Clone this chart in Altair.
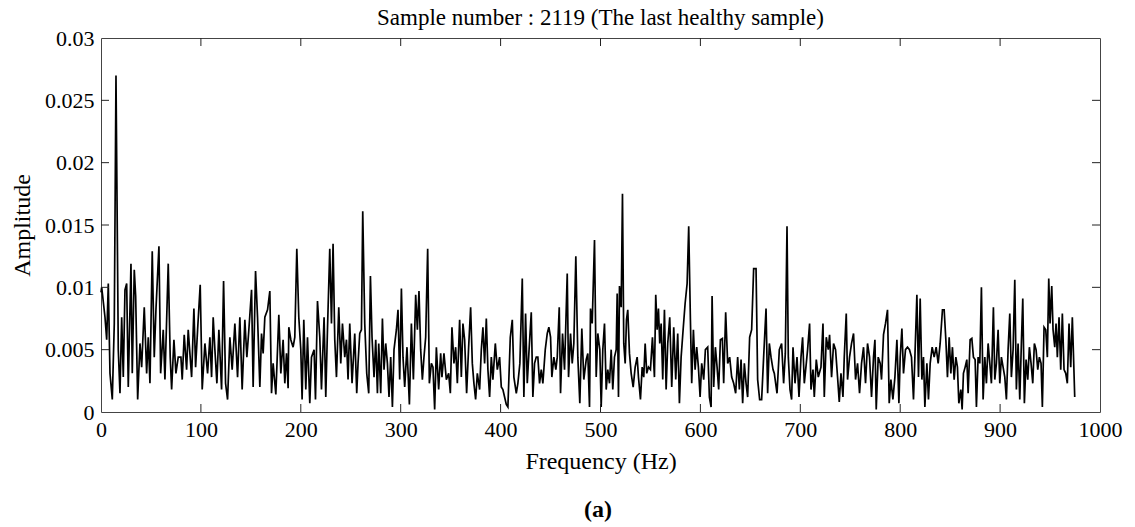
import altair as alt
import pandas as pd

# Frequency (Hz) and amplitude (in units of 0.001)
freq = [
    0, 0.7, 4, 5.7, 7.3, 9, 11.3, 13.3, 15, 17.3, 19, 20.7, 22.3, 24, 25.7, 27.3, 30, 31.3, 33.3, 34.7,
    36.7, 39, 40.7, 43.3, 45.7, 47.3, 49, 51.3, 53.3, 55, 58, 59.7, 62.3, 64, 67.3, 69.3, 70.7, 73, 75,
    77.3, 80, 81.3, 83.3, 85.7, 87.3, 90.7, 93, 94.7, 96.7, 99.3, 101.3, 104, 106.7, 109, 110.7, 112.3,
    114, 116, 118, 120.7, 122.7, 124.7, 126.7, 129, 131.3, 134, 136.7, 139, 141.3, 144, 146, 148, 150.7,
    152.3, 154.7, 156.7, 159, 160.7, 162.3,
    164, 166.7, 169, 170.7, 172.3, 175, 178, 180, 182.3, 184, 185.7, 187.3, 188, 190, 192.3, 194, 196,
    198, 200, 201.3, 203, 205, 206.7, 209, 210.7, 213.3, 214.7, 216.7, 219, 220.7, 223.3, 225, 226.7,
    229, 230.7, 232.3, 234, 235.7, 238, 240, 241.7, 244, 245.7, 247.3, 249, 251.3, 254, 256, 257.3, 259,
    260.7, 262, 264, 266, 268, 269.7, 271.3, 273.3, 275, 276.7, 278, 280, 281.7, 283.3, 285, 286.7,
    288.3, 290, 291.7, 293.3, 295.7, 297.3, 299, 300.7, 302.3, 304, 306.3, 308.7, 310.7, 312.7, 315,
    316.7, 318.3, 320, 321.7, 323.3, 325, 327, 328.7, 330.7, 332.3,
    334, 335.7, 338, 340, 341.3, 343.3, 345.7, 348, 349.7, 351.3, 353.3, 355, 356.7, 359, 360.7, 362.3,
    364, 366, 368, 370, 371.7, 373.3, 375, 376.7, 379, 380.7, 382.3, 384, 385.7, 387.3, 389, 390.7,
    392.3, 394.7, 396.7, 399, 400.7, 402.3, 404, 405.7, 407.3, 409.7, 411.7, 413.3, 415.7, 417.3, 419.3,
    421.7, 423.3, 425, 426.7, 428.3, 430.7, 432.3, 434, 435.7, 437.3, 439, 440.7, 442.3, 444.7, 446.7,
    448.3, 450, 451.3, 453.3, 455.3, 456.7, 458.7, 460, 462, 464, 466.7, 468, 470, 471.7, 473.3, 475.3,
    477.3, 479.3, 481.3, 483.3, 485.7, 487.3, 489, 490, 491.7, 494, 495.7, 497.3, 499.3, 500.7, 502.3,
    504, 505.7, 507.3, 509, 510.7, 512.3, 514, 515.7, 516.7, 518, 519, 520.7, 522, 523.3, 524.7, 526,
    527.3, 529, 530.7, 532.7, 534.7, 536.7, 538, 540, 541.7, 543.3, 544.7, 546.3, 548, 550, 552, 554,
    555.3, 556.7, 558, 559.3, 560.7, 562.3, 564, 565.7, 567.3, 569.3, 571.3, 573.3, 575.3, 577.3, 579,
    580.7, 582.7, 584.7, 586.7, 588.3, 590, 591.3, 593, 594.7, 596.3, 598, 599.7, 601.3, 603.3, 605,
    607.3, 609, 610.7, 611.7, 613.3, 615, 616.7, 618.3, 620, 622, 623.3, 625.3, 627.3, 629.3, 631.3,
    633.3, 635.3, 637.3, 639, 640.7, 642.3, 644, 645.7, 647.3, 649.3, 651.3, 653.3, 655.7, 657.3, 659.3,
    661.3, 663.3, 665.7, 667.3, 669, 670.7, 672.7,
    674, 676.7, 679, 681.3, 683.3, 685, 686.7, 688, 689.7, 691.3, 692.7, 694.7, 696.7, 698.7, 700.7,
    702.3, 704, 706, 707.3, 709.3, 710.7, 712.7, 714, 716, 718, 720.7, 722.7, 724, 726, 728, 729.3,
    731.3, 733.3, 735.3, 737.3, 739, 740.7, 742.7, 744, 746, 747.3, 749.3, 751.3, 753.3, 755.3, 757.3,
    759.3, 761.3, 763.3, 765.3, 767.3, 769.3, 771.3, 773.3, 774.7, 776, 778, 780, 781.3, 783.3, 785.3,
    787.3, 789, 790.7, 792.7, 794.7, 796.7, 798.7, 800, 801.7, 803.3, 805.3, 807.3, 809.3, 811.3, 813.3,
    814.7, 816.7, 818.3, 820, 821.7, 823.3, 824.7, 826.7, 828.3, 830, 832, 834, 836, 838, 840, 842.3,
    844, 845.7, 847.3, 849, 850.7, 852.3, 854, 855.7, 857.3, 858.7, 860.7, 862, 863.3, 865, 866.7, 868,
    870, 871.7, 873.3, 875, 876.3, 878, 879.7, 881.3, 883, 884.7, 886.3, 888, 889.7, 891.3, 893.3,
    894.7, 896.3, 898, 899.7, 901.3, 903, 904.7, 906.3, 908, 909.7, 911.3, 913, 914.7, 916.3, 918,
    919.7, 921.3, 922.7, 924.3, 926, 927.7, 929.3, 931, 932.7, 934.3, 936, 937.7, 939.3, 941, 942.3,
    944, 945.7, 947.3, 948.7, 950, 951.7, 953, 954.7, 956, 957.3, 959, 960.7, 962.3, 964, 965.7, 967.3,
    969, 970.7, 972.3, 973.3, 974.7,
]
amp_milli = [
    9.6, 10.0, 7.6, 5.8, 10.3, 3.1, 1.0, 7.1, 27.0, 5.0, 1.5, 7.6, 2.8, 9.8, 10.3, 2.0, 11.9, 3.1, 11.4, 9.3,
    1.0, 5.5, 3.6, 8.4, 3.1, 6.0, 2.3, 12.9, 4.4, 8.2, 13.3, 3.1, 6.6, 2.6, 11.9, 4.4, 1.8, 5.8, 3.1,
    4.4, 4.4, 2.6, 6.2, 3.4, 6.6, 2.8, 8.3, 3.6, 6.6, 10.2, 1.8, 5.5, 3.1, 6.0, 2.8, 7.6,
    5.0, 2.3, 6.6, 1.8, 10.5, 2.3, 1.0, 6.0, 3.4, 7.1, 2.8, 7.6, 1.8, 7.4, 4.4, 6.6, 9.8,
    2.0, 11.3, 7.6, 2.0, 6.3, 4.7,
    7.6, 8.2, 9.7, 1.5, 3.9, 1.4, 7.8, 3.1, 5.8, 2.3, 4.7, 1.9, 6.8, 5.8, 5.2, 6.0, 13.1,
    7.6, 5.0, 1.0, 7.4, 1.8, 6.0, 0.7, 4.4, 5.0, 1.0, 8.9, 6.0, 1.8, 7.6, 1.2, 6.6,
    13.1, 7.1, 13.5, 5.8, 2.8, 8.4, 3.9, 7.1, 4.4, 5.8, 2.6, 7.1, 2.3, 6.3, 1.5, 3.9, 6.3,
    6.6, 16.1, 7.1, 3.1, 1.5, 10.9, 6.0, 2.8, 5.8, 1.5, 5.5, 1.5, 7.5, 3.4, 5.5, 3.9,
    1.2, 4.4, 0.4, 5.0, 6.6, 8.2, 2.6, 9.9, 4.4, 2.0, 5.2, 0.6, 7.1, 2.6, 9.4,
    6.6, 9.7, 5.0, 2.6, 4.4, 6.0, 13.1, 2.3, 3.9, 3.6,
    0.2, 5.2, 1.8, 4.7, 2.8, 4.7, 2.6, 3.1, 1.5, 6.8, 3.9, 5.2, 2.3, 7.4, 2.8, 7.1,
    5.8, 1.5, 5.2, 8.4, 3.9, 2.3, 1.0, 3.1, 1.8, 5.0, 6.8, 3.9, 7.5, 3.4, 1.2, 4.4,
    2.6, 5.5, 3.4, 4.4, 2.0, 1.8, 1.2, 0.6, 0.4, 6.0, 7.4, 2.8, 1.5, 2.3, 3.9,
    10.7, 1.2, 7.9, 2.3, 4.7, 8.0, 1.2, 3.9, 4.4, 4.4, 2.3, 3.4, 2.3, 5.0, 6.3,
    6.8, 6.0, 2.8, 4.4, 3.4, 4.4, 8.4, 1.5, 6.3, 3.4, 11.1, 2.8, 6.3, 3.9, 5.5, 12.5,
    4.4, 0.7, 6.7, 2.6, 4.2, 4.7, 0.4, 8.3, 7.1, 13.8, 2.8, 6.3, 5.0, 0.4, 5.0,
    7.1, 1.8, 3.4, 2.3, 5.0, 1.8, 4.4, 5.0, 9.5, 1.2, 10.1, 8.4, 17.5, 5.5, 3.9, 7.4,
    8.2, 4.7, 3.1, 2.0, 3.6, 4.4, 2.8, 1.0, 3.6, 2.8, 5.5, 3.1, 3.6, 3.4, 6.0, 2.8,
    9.4, 6.6, 8.3, 5.5, 7.1, 2.6, 8.2, 1.8, 5.5, 7.6, 2.0, 6.8, 2.6, 6.3, 0.7,
    4.4, 6.6, 8.7, 10.3, 14.9, 7.4, 2.3, 6.6, 3.4, 5.2, 3.6, 1.2, 3.9, 2.6, 5.0,
    5.2, 1.2, 0.4, 9.3, 2.0, 5.2, 3.6, 1.8, 5.8, 5.9, 2.3, 8.0, 3.9, 4.4, 2.8,
    2.3, 1.5, 4.4, 1.8, 4.2, 0.7, 3.9, 2.3, 1.2, 6.0, 6.6, 11.5, 11.5, 2.6, 1.0,
    1.0, 4.4, 8.3, 1.5, 5.5, 4.4, 3.4,
    3.1, 1.5, 5.0, 5.5, 2.3, 4.7, 14.9, 4.4, 1.8, 1.0, 5.2, 2.3, 4.4, 1.2, 4.4,
    6.0, 2.3, 3.9, 5.0, 7.1, 1.8, 3.4, 1.2, 4.2, 2.8, 3.6, 7.1, 1.2, 6.0, 5.0, 6.2,
    2.8, 5.5, 5.0, 2.8, 0.8, 3.1, 1.2, 4.4, 7.9, 2.6, 4.4, 5.5, 6.3, 2.6, 3.9,
    1.5, 3.9, 5.2, 2.3, 5.5, 4.4, 1.2, 4.4, 5.8, 0.2, 4.4, 3.9, 2.6, 6.2, 7.1,
    8.2, 0.7, 2.6, 1.0, 2.8, 5.8, 0.7, 4.4, 6.7, 3.1, 5.0, 5.2, 5.0, 4.4, 1.0,
    4.4, 9.4, 2.8, 9.1, 2.6, 4.4, 0.4, 3.9, 1.0, 3.9, 5.2, 4.4, 5.2, 3.9, 5.5, 8.2,
    8.2, 5.8, 2.8, 6.0, 3.1, 5.2, 2.6, 4.4, 3.6, 0.7, 1.8, 0.2, 3.1, 3.6, 4.2, 1.5,
    5.8, 5.9, 4.4, 4.2, 0.4, 4.4, 3.9, 10.0, 1.0, 4.4, 2.3, 5.5, 3.9, 2.3, 8.4,
    2.6, 3.9, 6.6, 2.3, 4.4, 3.6, 2.8, 1.0, 5.0, 7.9, 2.8, 5.0, 10.6, 1.8, 5.5,
    1.0, 5.5, 9.1, 0.7, 4.2, 2.6, 5.2, 3.9, 2.3, 5.5, 5.0, 3.4, 4.4, 3.9, 0.4,
    6.8, 6.6, 4.4, 10.7, 7.1, 10.1, 6.6, 5.2, 7.1, 4.4, 7.6, 3.4, 7.9, 3.4, 3.1, 2.3,
    7.1, 3.6, 7.6, 5.0, 1.2,
]

x_ticks = [0, 100, 200, 300, 400, 500, 600, 700, 800, 900, 1000]
y_ticks = [0, 0.005, 0.01, 0.015, 0.02, 0.025, 0.03]
x_inner_ticks = [100, 200, 300, 400, 500, 600, 700, 800, 900]
y_inner_ticks = [0.005, 0.01, 0.015, 0.02, 0.025]
title_text = ["Sample number : 2119 (The last healthy sample)"]
panel_text = ["(a)"]

df = pd.DataFrame({"f": freq, "a": [v / 1000 for v in amp_milli]})
xdf = pd.DataFrame({"f": x_inner_ticks})
ydf = pd.DataFrame({"a": y_inner_ticks})

FONT = "Liberation Serif, Times New Roman, serif"
W, H = 999, 374
TL = 8

xscale = alt.Scale(domain=[0, 1000], nice=False, zero=False)
yscale = alt.Scale(domain=[0, 0.03], nice=False)

xaxis = alt.Axis(
    values=x_ticks, format="d", title="Frequency (Hz)", grid=False, ticks=False, tickSize=0,
    domain=False, labelFont=FONT, labelFontSize=22, labelColor="black", labelPadding=7,
    titleFont=FONT, titleFontSize=24, titleFontWeight="normal", titleColor="black",
    titlePadding=9, labelFlush=False)
yaxis = alt.Axis(
    values=y_ticks, format="~g", title="Amplitude", grid=False, ticks=False, tickSize=0,
    domain=False, labelFont=FONT, labelFontSize=22, labelColor="black", labelPadding=7,
    titleFont=FONT, titleFontSize=24, titleFontWeight="normal", titleColor="black",
    titlePadding=10, labelFlush=False)

X = alt.X("f:Q", scale=xscale, axis=xaxis)
Y = alt.Y("a:Q", scale=yscale, axis=yaxis)

line = alt.Chart(df).mark_line(color="black", strokeWidth=1.7).encode(x=X, y=Y)

tick_color = "#222222"
bottom_ticks = alt.Chart(xdf).mark_rule(color=tick_color, strokeWidth=1).encode(
    x=X, y=alt.value(H), y2=alt.value(H - TL))
top_ticks = alt.Chart(xdf).mark_rule(color=tick_color, strokeWidth=1).encode(
    x=X, y=alt.value(0), y2=alt.value(TL))
left_ticks = alt.Chart(ydf).mark_rule(color=tick_color, strokeWidth=1).encode(
    y=Y, x=alt.value(0), x2=alt.value(TL))
right_ticks = alt.Chart(ydf).mark_rule(color=tick_color, strokeWidth=1).encode(
    y=Y, x=alt.value(W), x2=alt.value(W - TL))

title_mark = alt.Chart(pd.DataFrame({"t": title_text})).mark_text(
    font=FONT, fontSize=23, color="black", baseline="alphabetic", align="center"
).encode(x=alt.value(W / 2), y=alt.value(-13), text="t:N")

panel_label = alt.Chart(pd.DataFrame({"t": panel_text})).mark_text(
    font=FONT, fontSize=24, fontWeight="bold", color="black", baseline="middle", align="center"
).encode(x=alt.value(497), y=alt.value(472), text="t:N")

chart = alt.layer(line, bottom_ticks, top_ticks, left_ticks, right_ticks, title_mark, panel_label).properties(
    width=W, height=H,
    autosize=alt.AutoSizeParams(type="none"),
    padding={"left": 101, "top": 38, "right": 35, "bottom": 115},
    background="white",
).configure_view(stroke="#444444", strokeWidth=1)

chart.save("out.html", embed_options={"renderer": "svg", "actions": False})
